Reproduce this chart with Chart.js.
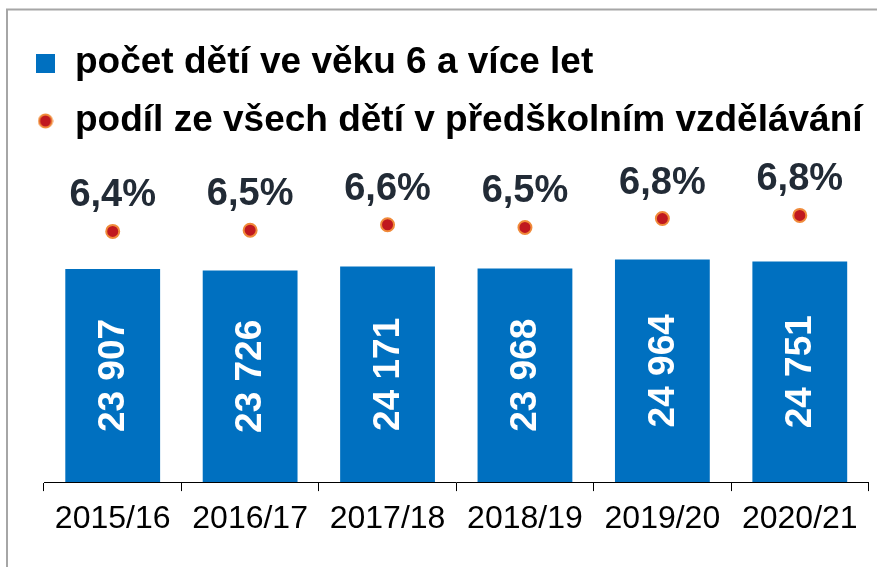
<!DOCTYPE html>
<html lang="cs">
<head>
<meta charset="utf-8">
<title>Počet dětí ve věku 6 a více let</title>
<script src="https://cdn.jsdelivr.net/npm/chart.js@4.4.1/dist/chart.umd.min.js"></script>
<style>
    html, body { margin: 0; padding: 0; background: #fff; }
    #wrap { position: relative; width: 877px; height: 567px; }
</style>
</head>
<body>
<div id="wrap"><canvas id="chart"></canvas></div>
<script>
// --- Data ---
const years = ['2015/16', '2016/17', '2017/18', '2018/19', '2019/20', '2020/21'];
const childCounts = [23907, 23726, 24171, 23968, 24964, 24751];
const childShares = [6.43, 6.46, 6.60, 6.53, 6.76, 6.84];
const seriesNames = ['počet dětí ve věku 6 a více let', 'podíl ze všech dětí v předškolním vzdělávání'];

const FONT = "'Liberation Sans', Arial, sans-serif";
const BLUE = '#0070C0';
const RED = '#C0181F';
const ORANGE = '#F08A3A';

// --- Legend markers ---
function makeSquare() {
    const c = document.createElement('canvas');
    c.width = 19; c.height = 19;
    const g = c.getContext('2d');
    g.fillStyle = BLUE;
    g.fillRect(0, 0, 19, 19);
    return c;
}

function makeDot() {
    const c = document.createElement('canvas');
    c.width = 16; c.height = 16;
    const g = c.getContext('2d');
    g.beginPath();
    g.arc(8, 8, 6.5, 0, Math.PI * 2);
    g.fillStyle = RED;
    g.fill();
    g.lineWidth = 2;
    g.strokeStyle = ORANGE;
    g.stroke();
    return c;
}

const legendMarkers = [makeSquare(), makeDot()];

// --- Plugins ---
const framePlugin = {
    id: 'frame',
    beforeDraw(chart) {
        const ctx = chart.ctx;
        ctx.save();
        ctx.strokeStyle = '#A6A6A6';
        ctx.lineWidth = 2;
        ctx.beginPath();
        ctx.moveTo(7, chart.height);
        ctx.lineTo(7, 9.5);
        ctx.lineTo(chart.width, 9.5);
        ctx.stroke();
        ctx.restore();
    }
};

const valueLabels = {
    id: 'valueLabels',
    afterDatasetsDraw(chart) {
        const ctx = chart.ctx;
        ctx.save();

        // rotated counts inside bars
        const bars = chart.getDatasetMeta(0).data;
        ctx.fillStyle = '#fff';
        ctx.font = 'bold 37px ' + FONT;
        ctx.textAlign = 'center';
        ctx.textBaseline = 'middle';
        bars.forEach((bar, i) => {
            const text = childCounts[i].toLocaleString('en-US').replace(',', ' ');
            ctx.save();
            ctx.translate(bar.x, (bar.y + bar.base) / 2);
            ctx.rotate(-Math.PI / 2);
            ctx.fillText(text, 0, 1);
            ctx.restore();
        });

        // shares above the dots
        const pts = chart.getDatasetMeta(1).data;
        ctx.fillStyle = '#222B36';
        ctx.font = 'bold 38px ' + FONT;
        ctx.textBaseline = 'alphabetic';
        pts.forEach((pt, i) => {
            const text = childShares[i].toFixed(1).replace('.', ',') + '%';
            ctx.fillText(text, pt.x, pt.y - 25);
        });
        ctx.restore();
    }
};

// --- Chart ---
new Chart(document.getElementById('chart'), {
    data: {
        labels: years,
        datasets: [
            {
                type: 'bar',
                label: seriesNames[0],
                data: childCounts,
                backgroundColor: BLUE,
                categoryPercentage: 1,
                barPercentage: 0.69,
                yAxisID: 'y'
            },
            {
                type: 'line',
                label: seriesNames[1],
                data: childShares,
                showLine: false,
                pointRadius: 6.5,
                pointBorderWidth: 2,
                pointBackgroundColor: RED,
                pointBorderColor: ORANGE,
                yAxisID: 'y1'
            }
        ]
    },
    options: {
        responsive: true,
        maintainAspectRatio: false,
        animation: false,
        layout: {
            padding: { left: 13.5, right: 2, top: 23.5, bottom: 19.5 }
        },
        scales: {
            x: {
                grid: {
                    offset: true,
                    drawOnChartArea: false,
                    drawTicks: true,
                    tickLength: 9,
                    color: '#000'
                },
                border: { display: true, color: '#000', width: 1 },
                ticks: {
                    color: '#000',
                    padding: 9,
                    font: { family: FONT, size: 32 }
                }
            },
            y: {
                min: 0,
                max: 37300,
                grid: { display: false },
                border: { display: false },
                ticks: { display: false },
                afterFit(scale) { scale.width = 30.5; }
            },
            y1: {
                display: false,
                position: 'right',
                min: 0,
                max: 8.53
            }
        },
        plugins: {
            tooltip: { enabled: false },
            legend: {
                position: 'top',
                align: 'start',
                labels: {
                    usePointStyle: true,
                    boxWidth: 22,
                    padding: 21,
                    color: '#000',
                    font: { family: FONT, size: 37, weight: 'bold' },
                    generateLabels(chart) {
                        const items = Chart.defaults.plugins.legend.labels.generateLabels(chart);
                        items.forEach(item => { item.pointStyle = legendMarkers[item.datasetIndex]; });
                        return items;
                    }
                }
            }
        }
    },
    plugins: [framePlugin, valueLabels]
});
</script>
</body>
</html>
